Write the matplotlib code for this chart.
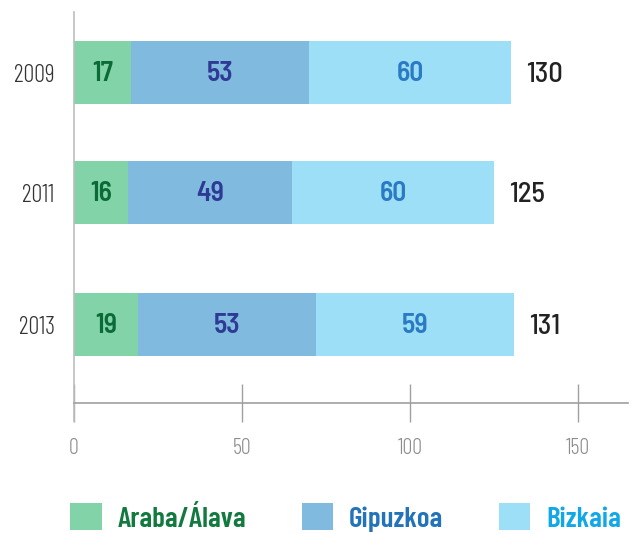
import matplotlib
matplotlib.use('Agg')
import matplotlib.pyplot as plt

# Datos
years = ['2009', '2011', '2013']
araba = [17, 16, 19]
gipuzkoa = [53, 49, 53]
bizkaia = [60, 60, 59]
series_names = ['Araba/Álava', 'Gipuzkoa', 'Bizkaia']
xticks = [0, 50, 100, 150]

# Colores
bar_colors = ['#82D4A8', '#80BBDF', '#9DDFF7']
label_colors = ['#0B6B38', '#2E3A94', '#2A7AC4']
legend_colors = ['#127A3F', '#2273BA', '#12A8E8']

plt.rcParams['font.family'] = ['Barlow Condensed', 'DejaVu Sans']
num_font = ['Barlow Semi Condensed', 'Barlow Condensed', 'DejaVu Sans']

fig = plt.figure(figsize=(6.31, 5.34), dpi=100)
ax = fig.add_axes([74 / 631, 113 / 534, 554 / 631, 409 / 534])

# posiciones de las barras (en pixeles, eje invertido)
ypos = [72.5, 192.5, 324.5]
bar_h = 63

series = [araba, gipuzkoa, bizkaia]
left = [0, 0, 0]
handles = []
for vals, col, lcol, name in zip(series, bar_colors, label_colors, series_names):
    b = ax.barh(ypos, vals, left=left, height=bar_h, color=col, label=name)
    handles.append(b)
    for y, v, l in zip(ypos, vals, left):
        ax.text(l + v / 2, y + 1, str(v), ha='center', va='center', family=num_font,
                fontsize=20, fontweight=600, color=lcol)
    left = [l + v for l, v in zip(left, vals)]

# totales
for y, t in zip(ypos, left):
    ax.annotate(str(t), (t, y + 2), xytext=(11, 0), textcoords='offset points',
                ha='left', va='center', family=num_font, fontsize=20.5,
                fontweight=500, color='#222222')

ax.set_xlim(0, 164.9)
ax.set_ylim(421, 12)
ax.set_xticks(xticks)
ax.set_yticks(ypos, years)

for s in ['top', 'right']:
    ax.spines[s].set_visible(False)
ax.spines['bottom'].set_position(('data', 403))
ax.spines['bottom'].set_color('#A0A0A0')
ax.spines['bottom'].set_linewidth(1.2)
ax.spines['left'].set_color('#BDBDBD')
ax.spines['left'].set_linewidth(1.2)

ax.tick_params(axis='x', direction='inout', length=27, width=1, color='#A0A0A0',
               pad=12, labelsize=16, labelcolor='#8C8C8C')
ax.tick_params(axis='y', length=0, pad=14, labelsize=17.5, labelcolor='#333333')
for t in ax.get_xticklabels() + ax.get_yticklabels():
    t.set_fontweight(300)

leg = fig.legend(handles=handles, loc='center left', bbox_to_anchor=(70 / 631, 16.5 / 534),
                 ncol=3, frameon=False, handlelength=1.08, handleheight=1.0,
                 handletextpad=0.55, columnspacing=1.9, borderpad=0, borderaxespad=0,
                 prop={'weight': 600, 'size': 21})
for txt, c in zip(leg.get_texts(), legend_colors):
    txt.set_color(c)

plt.savefig('out.png', dpi=100)
